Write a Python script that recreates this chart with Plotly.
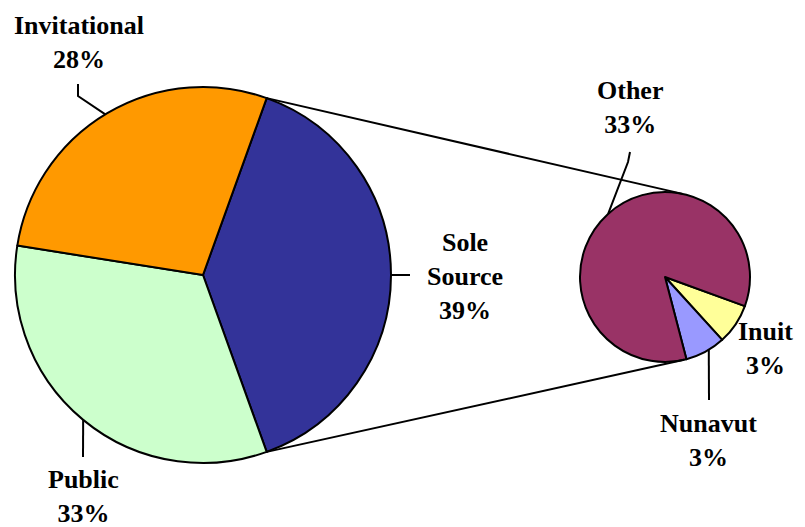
import math
import plotly.graph_objects as go

# main pie
main_labels = ["Sole Source", "Public", "Invitational"]
main_values = [39, 33, 28]
main_colors = ["#333399", "#CCFFCC", "#FF9900"]

# breakdown of Sole Source
sub_labels = ["Inuit", "Nunavut", "Other"]
sub_values = [3, 3, 33]
sub_colors = ["#FFFF99", "#9999FF", "#993366"]

W, H = 805, 527
OFF = 8  # page body margin
FW, FH = W - OFF, H - OFF
MAIN_C, MAIN_R = (203, 275), 188
SUB_C, SUB_R = (665, 277), 85
FONT = "Liberation Serif"


def fx(x):
    return (x - OFF) / FW


def fy(y):
    return 1 - (y - OFF) / FH


def domain(c, r):
    return dict(x=[fx(c[0] - r), fx(c[0] + r)], y=[fy(c[1] + r), fy(c[1] - r)])


def edge(c, r, deg):
    a = math.radians(deg)
    return c[0] + r * math.sin(a), c[1] - r * math.cos(a)


total = sum(main_values)
sole_span = main_values[0] / total * 360
main_rot = 90 - sole_span / 2
sub_rot = 110

fig = go.Figure()
fig.add_trace(go.Pie(labels=main_labels, values=main_values, sort=False,
                     direction="clockwise", rotation=main_rot,
                     marker=dict(colors=main_colors, line=dict(color="black", width=2)),
                     textinfo="none", hoverinfo="label+percent",
                     domain=domain(MAIN_C, MAIN_R), showlegend=False))
fig.add_trace(go.Pie(labels=sub_labels, values=sub_values, sort=False,
                     direction="clockwise", rotation=sub_rot,
                     marker=dict(colors=sub_colors, line=dict(color="black", width=2)),
                     textinfo="none", hoverinfo="label+value",
                     domain=domain(SUB_C, SUB_R), showlegend=False))

# connector lines between the pies
shapes = []
for a_main, a_sub in [(main_rot, 12), (main_rot + sole_span, 167)]:
    x0, y0 = edge(MAIN_C, MAIN_R, a_main)
    x1, y1 = edge(SUB_C, SUB_R, a_sub)
    shapes.append(dict(type="line", xref="paper", yref="paper",
                       x0=fx(x0), y0=fy(y0), x1=fx(x1), y1=fy(y1),
                       line=dict(color="black", width=2)))

# leader lines: pie, angle on pie edge, then elbow points
leaders = [
    (MAIN_C, MAIN_R, 328.7, [(78, 96), (78, 84)]),
    (MAIN_C, MAIN_R, 219.6, [(83, 457)]),
    (MAIN_C, MAIN_R, 90, [(410, 275)]),
    (SUB_C, SUB_R, 318, [(628, 162), (630, 152)]),
    (SUB_C, SUB_R, 149, [(709, 400)]),
]
for c, r, ang, pts in leaders:
    sx, sy = edge(c, r, ang)
    path = f"M {fx(sx)},{fy(sy)}" + "".join(f" L {fx(px)},{fy(py)}" for px, py in pts)
    shapes.append(dict(type="path", xref="paper", yref="paper", path=path,
                       line=dict(color="black", width=2)))

label_pos = {
    "Invitational": (79, 43),
    "Sole Source": (465, 277),
    "Public": (83, 496),
    "Other": (630, 108),
    "Inuit": (765, 348),
    "Nunavut": (708, 440),
}

annotations = []
for lab, v in list(zip(main_labels, main_values)) + list(zip(sub_labels, sub_values)):
    name = lab.replace(" ", "<br>")
    pct = round(v / total * 100)
    x, y = label_pos[lab]
    annotations.append(dict(x=fx(x), y=fy(y), xref="paper", yref="paper",
                            text=f"<b>{name}<br>{pct}%</b>", showarrow=False,
                            xanchor="center", yanchor="middle",
                            font=dict(family=FONT, size=26, color="black")))

fig.update_layout(width=FW, height=FH, margin=dict(l=0, r=0, t=0, b=0),
                  paper_bgcolor="white", plot_bgcolor="white",
                  shapes=shapes, annotations=annotations)

fig.write_html("out.html")
